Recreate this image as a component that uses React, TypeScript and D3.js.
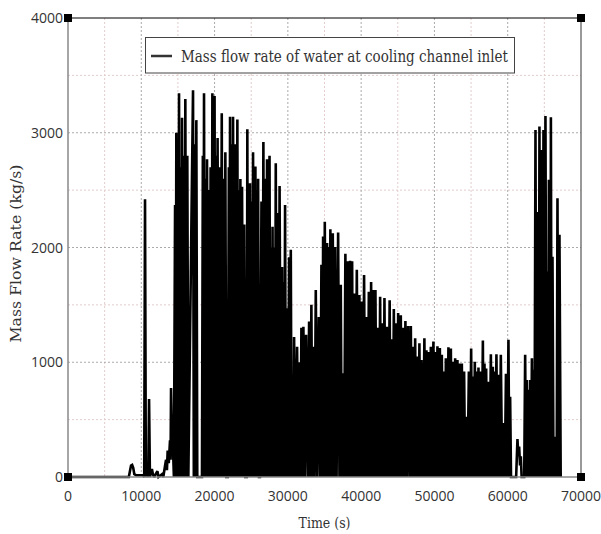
import React from 'react';
import * as d3 from 'd3';

// ---- data (time in s, mass flow rate in kg/s) ----
const startup: [number, number][] = [
  [0, 0], [8300, 0], [8450, 50], [8600, 100], [8750, 105], [8900, 80], [9050, 25], [9300, 15],
  [10200, 15], [10400, 0], [10510, 2420], [10620, 0], [10800, 60], [10950, 0], [11060, 680],
  [11180, 0], [11450, 70], [11600, 20], [11750, 0], [12200, 50], [12350, 0], [12850, 25],
  [13000, 0], [13250, 100], [13380, 150], [13500, 60], [13600, 230], [13750, 120], [13920, 320],
  [14000, 150], [14060, 775], [14200, 300], [14290, 320], [14450, 0],
];

const burst: [number, number][] = [
  [14610, 2370], [14700, 0], [14780, 3000], [14870, 0], [14960, 2400], [15060, 0],
  [15150, 3345], [15250, 0], [15350, 2700], [15460, 0], [15560, 3130], [15670, 0], [15780, 2800],
  [15900, 0], [16010, 3295], [16140, 0], [16280, 2800], [16420, 0], [17060, 3370], [17170, 0],
  [17280, 2900], [17400, 0], [17510, 3110], [17640, 0], [18280, 0], [18400, 2800], [18480, 0],
  [18560, 3345], [18660, 0], [18760, 2600], [18870, 0], [18970, 2770], [19090, 0], [19220, 2500],
  [19340, 0], [19460, 2700], [19580, 0], [19700, 3345], [19850, 0], [20000, 3320], [20100, 0],
  [20200, 2800], [20310, 0], [20410, 2955], [20550, 0], [20700, 2700], [20840, 0], [20980, 3170],
  [21100, 0], [21220, 2600], [21350, 0], [21470, 2830], [21600, 0], [21800, 0], [21950, 2700],
  [22030, 0], [22110, 3140], [22210, 0], [22310, 2900], [22420, 0], [22520, 3140], [22670, 0],
  [22810, 2900], [22960, 0], [23110, 3115], [23210, 0], [23310, 2500], [23420, 0], [23520, 2597],
  [23630, 0], [23750, 2530], [23900, 0], [24050, 2200], [24200, 0], [24400, 0], [24470, 3030],
  [24560, 0], [24650, 2400], [24750, 0], [24840, 2560], [24940, 0], [25040, 2400], [25150, 0],
  [25250, 2830], [25410, 0], [25570, 2705], [25660, 0], [25750, 2500], [25850, 0], [25940, 2600],
  [26060, 0], [26200, 0], [26400, 2400], [26530, 0], [26660, 2920], [26790, 0], [26910, 2600],
  [27040, 0], [27160, 2770], [27330, 0], [27500, 2800], [27600, 0], [27700, 2000], [27810, 0],
  [27910, 2180], [28020, 0], [28130, 2000], [28240, 0], [28350, 2735], [28480, 0], [28610, 2300],
  [28740, 0], [28870, 2535], [29040, 0], [29210, 1830], [29310, 0], [29410, 1700], [29520, 0],
  [29620, 2370], [29730, 0], [29850, 1470], [30010, 0], [30170, 1915], [30280, 0], [30400, 1980],
  [30510, 0],
];

const decay: [number, number][] = [
  [30620, 745], [30730, 0], [30850, 1220], [31050, 0], [31260, 1135], [31410, 0], [31550, 1000],
  [31700, 0], [31850, 1300],
  [31990, 0], [32120, 1310], [32300, 0], [32490, 1240], [32700, 0], [32900, 1355], [33050, 0],
  [33210, 1500], [33340, 0], [33480, 1135], [33640, 0], [33810, 1630], [34010, 0], [34220, 1395],
  [34400, 0], [34580, 1850], [34700, 0], [34810, 2095], [34920, 0], [35040, 2225], [35200, 0],
  [35350, 2040], [35470, 0], [35590, 2005], [35700, 0], [35800, 2160], [35960, 0], [36130, 2125],
  [36290, 0], [36450, 2005], [36650, 0], [36860, 2130], [37040, 0], [37220, 1675], [37360, 0],
  [37500, 905], [37670, 0], [37850, 1945], [38010, 0], [38180, 1880], [38330, 0], [38490, 1885],
  [38630, 0], [38770, 1880], [38900, 0], [39040, 1600], [39220, 0], [39410, 1805], [39580, 0],
  [39760, 1585], [39920, 0], [40090, 1530], [40240, 0], [40400, 1760], [40560, 0], [40720, 1395],
  [40880, 0], [41050, 1615], [41200, 0], [41360, 1700], [41490, 0], [41630, 1630], [41790, 0],
  [41950, 1630], [42110, 0], [42270, 1300], [42430, 0], [42590, 1570], [42740, 0], [42900, 1340],
  [43040, 0], [43180, 1560], [43340, 0], [43500, 1310], [43690, 0], [43890, 1540], [44030, 0],
  [44170, 1200], [44310, 0], [44460, 1465], [44610, 0], [44770, 1340], [44910, 0], [45050, 1430],
  [45230, 0], [45410, 1410], [45550, 0], [45690, 1300], [45860, 0], [46040, 1360], [46220, 0],
  [46410, 1315], [46590, 0], [46780, 1315], [46930, 0], [47090, 1135], [47230, 0], [47370, 1210],
  [47500, 0], [47640, 1050], [47790, 0], [47950, 1165], [48090, 0], [48230, 1020], [48430, 0],
  [48630, 1210], [48770, 0], [48910, 1105], [49040, 0], [49180, 1090], [49340, 0], [49510, 1135],
  [49680, 0], [49860, 1180], [50000, 0], [50140, 1090], [50270, 0], [50410, 1140], [50570, 0],
  [50740, 1125], [50870, 0], [51010, 1065], [51160, 0], [51320, 920], [51440, 0], [51560, 1035],
  [51730, 0], [51910, 1130], [52070, 0], [52240, 1120], [52390, 0], [52550, 1005], [52690, 0],
  [52830, 1035], [52980, 0], [53140, 1020], [53270, 0], [53410, 990], [53570, 0], [53740, 990],
  [53890, 0], [54050, 920], [54190, 0], [54330, 525], [54510, 0], [54700, 920], [54850, 0],
  [55010, 1120], [55140, 0], [55280, 875], [55390, 0], [55510, 1005], [55650, 0], [55790, 920],
  [55900, 0], [56010, 955], [56140, 0], [56280, 920], [56440, 0], [56610, 1190], [56720, 0],
  [56830, 990], [56940, 0], [57060, 945], [57190, 0], [57330, 830], [57510, 0], [57700, 1070],
  [57830, 0], [57970, 960], [58060, 0], [58150, 920], [58300, 0], [58460, 1070], [58600, 0],
  [58740, 890], [58900, 0], [59060, 1065], [59240, 0], [59420, 470], [59600, 0], [59760, 900],
  [59930, 0], [60100, 1195], [60220, 0], [60330, 700], [60450, 0],
];

const restart: [number, number][] = [
  [61150, 0], [61330, 330], [61450, 180], [61560, 265], [61680, 100], [61790, 180], [61900, 0],
  [62250, 0], [62380, 1065], [62500, 0], [62610, 845], [62720, 0], [62830, 760], [62950, 0],
  [63060, 845], [63180, 0], [63300, 1035], [63400, 0], [63510, 935], [63650, 0], [63790, 3025],
  [63900, 0], [64020, 2310], [64100, 0], [64180, 2000], [64250, 0], [64330, 3055], [64420, 0],
  [64500, 2600], [64580, 0], [64660, 2850], [64770, 0], [64880, 3025], [65010, 0], [65150, 3145],
  [65290, 0], [65420, 1790], [65520, 0], [65620, 2590], [65700, 0], [65780, 2400], [65840, 0],
  [65890, 3135], [66000, 0], [66110, 1920], [66250, 0], [66380, 350], [66470, 0],
  [66570, 350], [66680, 0], [66790, 2430], [66920, 0], [67060, 2110], [67230, 0],
];

const xTicks = [0, 10000, 20000, 30000, 40000, 50000, 60000, 70000];
const yTicks = [0, 1000, 2000, 3000, 4000];
const xMinorTicks = [5000, 15000, 25000, 35000, 45000, 55000, 65000];
const yMinorTicks = [500, 1500, 2500, 3500];
const legendLabel = 'Mass flow rate of water at cooling channel inlet';
const xTitle = 'Time (s)';
const yTitle = 'Mass Flow Rate (kg/s)';

export default function App() {
  const W = 601, H = 534;
  const L = 68, R = 581, T = 18, B = 477;
  const x = d3.scaleLinear().domain([0, 70000]).range([L, R]);
  const y = d3.scaleLinear().domain([0, 4000]).range([B, T]);
  const data = [...startup, ...burst, ...decay, ...restart];
  const path = d3.line<[number, number]>().x(d => x(d[0])).y(d => y(d[1]))(data) || '';
  const tickFont = "'Open Sans', sans-serif";
  const serif = "'DejaVu Serif', serif";
  const sq = 8;

  return (
    <svg width={W} height={H} style={{ position: 'absolute', left: 0, top: 0, background: '#fff' }}>
      <rect x={0} y={0} width={W} height={H} fill="#fff" />
      {/* minor grid */}
      {xMinorTicks.map(t => (
        <line key={'xm' + t} x1={x(t)} x2={x(t)} y1={T} y2={B} stroke="#e2cccc" strokeWidth={1} strokeDasharray="2,2" />
      ))}
      {yMinorTicks.map(t => (
        <line key={'ym' + t} x1={L} x2={R} y1={y(t)} y2={y(t)} stroke="#e2cccc" strokeWidth={1} strokeDasharray="2,2" />
      ))}
      {/* major grid */}
      {xTicks.slice(1, -1).map(t => (
        <line key={'xg' + t} x1={x(t)} x2={x(t)} y1={T} y2={B} stroke="#aaa" strokeWidth={1} strokeDasharray="2,2" />
      ))}
      {yTicks.slice(1, -1).map(t => (
        <line key={'yg' + t} x1={L} x2={R} y1={y(t)} y2={y(t)} stroke="#aaa" strokeWidth={1} strokeDasharray="2,2" />
      ))}
      {/* data */}
      <path d={path} fill="none" stroke="#000" strokeWidth={2.6} strokeLinejoin="miter" strokeMiterlimit={2} />
      {/* frame */}
      <line x1={L} x2={R} y1={T} y2={T} stroke="#000" strokeWidth={1.2} />
      <line x1={R} x2={R} y1={T} y2={B} stroke="#555" strokeWidth={1.2} />
      <line x1={L} x2={L} y1={T} y2={B} stroke="#888" strokeWidth={1.5} />
      <line x1={L} x2={R} y1={B} y2={B} stroke="#888" strokeWidth={1.5} />
      {[[L, T], [R, T], [L, B], [R, B]].map(([cx, cy], i) => (
        <rect key={'sq' + i} x={cx - sq / 2} y={cy - sq / 2} width={sq} height={sq} fill="#000" />
      ))}
      {/* tick labels */}
      {yTicks.map(t => (
        <text key={'yl' + t} x={L - 5} y={y(t) + 5} textAnchor="end" fontFamily={tickFont} fontSize={14} fill="#333">{t}</text>
      ))}
      {xTicks.map(t => (
        <text key={'xl' + t} x={x(t)} y={B + 24} textAnchor="middle" fontFamily={tickFont} fontSize={14} fill="#333">{t}</text>
      ))}
      {/* axis titles */}
      <text x={(L + R) / 2} y={528} textAnchor="middle" fontFamily={serif} fontSize={14} fill="#333" textLength={52} lengthAdjust="spacingAndGlyphs">{xTitle}</text>
      <text transform={`translate(21, ${(T + B) / 2 + 6}) rotate(-90)`} textAnchor="middle" fontFamily={serif} fontSize={15} fill="#333" textLength={178} lengthAdjust="spacingAndGlyphs">{yTitle}</text>
      {/* legend */}
      <rect x={145.5} y={37.5} width={369} height={35.5} fill="#fff" stroke="#444" strokeWidth={1} />
      <line x1={151} x2={172} y1={56} y2={56} stroke="#333" strokeWidth={2.5} />
      <text x={181} y={62} fontFamily={serif} fontSize={16} fill="#333" textLength={327} lengthAdjust="spacingAndGlyphs">{legendLabel}</text>
    </svg>
  );
}
